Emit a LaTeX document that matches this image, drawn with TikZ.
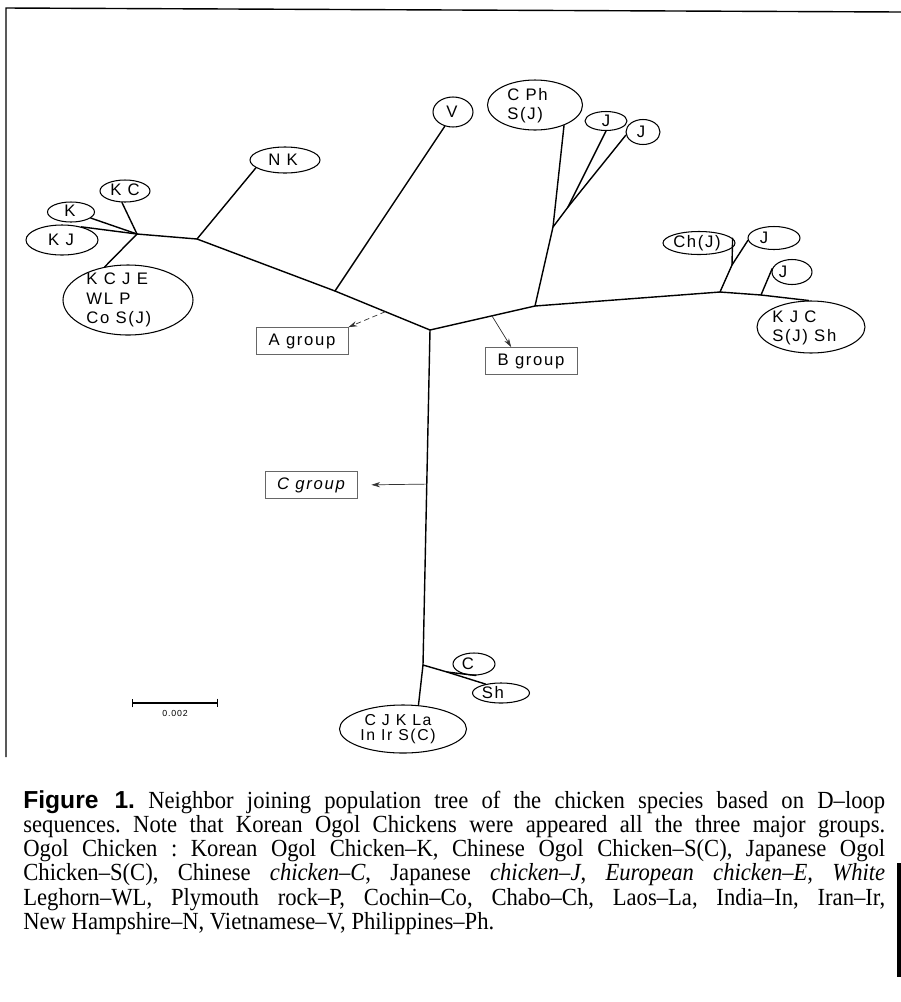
\documentclass[tikz,border=0pt]{standalone}
\usepackage{fontspec}
\setmainfont{Liberation Serif}
\newfontfamily\capserif[FakeStretch=0.92, Ligatures=TeX]{Liberation Serif}
\newfontfamily\capsans{Liberation Sans}
\newfontfamily\taxfont[LetterSpace=10]{Liberation Sans}
\usetikzlibrary{shapes.geometric, arrows.meta, calc}

\begin{document}
\begin{tikzpicture}[x=0.02cm, y=-0.02cm,
  branch/.style={line width=0.8pt, line cap=round, line join=round},
  leaf/.style n args={2}{draw, ellipse, line width=0.6pt, inner sep=0pt,
    minimum width=#1*0.02cm, minimum height=#2*0.02cm},
  tag/.style={font=\taxfont\fontsize{9.5}{11}\selectfont, inner sep=0pt, align=left},
  grp/.style={draw=black!60, line width=0.4pt, minimum width=92*0.02cm,
    minimum height=27*0.02cm, inner sep=0pt, font=\taxfont\fontsize{9.5}{10}\selectfont},
  grparrow/.style={-{Stealth[length=5pt,width=3pt]}, line width=0.4pt, black!80}]
  \useasboundingbox (0,0) rectangle (901,1002);

  % frame of the scanned figure
  \draw[line width=0.8pt] (901,12) -- (6,8) -- (6,757);
  \draw[line width=2pt] (899,863) -- (899,977);

  % inner nodes of the tree
  \coordinate (root) at (430,330);
  \coordinate (jv) at (335,291);
  \coordinate (jnk) at (197,239);
  \coordinate (jl) at (137,234);
  \coordinate (jcp) at (535,306);
  \coordinate (jjj) at (553,227);
  \coordinate (jjs) at (568,207);
  \coordinate (jch) at (720,292);
  \coordinate (jchs) at (732,265);
  \coordinate (jj4) at (761,295);
  \coordinate (jc) at (423,665);
  \coordinate (jcs) at (447,672);

  % leaves
  \node[leaf={70}{26}] (nk) at (285,160) {};
  \node[leaf={50}{22}] (kc) at (125,191) {};
  \node[leaf={47}{20}] (kk) at (71,212) {};
  \node[leaf={72}{30}] (kj) at (62,240) {};
  \node[leaf={130}{70}] (kcje) at (128,300) {};
  \node[leaf={40}{30}] (v) at (453,112) {};
  \node[leaf={95}{50}] (cph) at (535,105) {};
  \node[leaf={42}{19}] (ja) at (606,121) {};
  \node[leaf={34}{25}] (jb) at (643,132) {};
  \node[leaf={72}{23}] (chj) at (699,243) {};
  \node[leaf={52}{23}] (jd) at (774,238) {};
  \node[leaf={40}{25}] (je) at (792,272) {};
  \node[leaf={108}{52}] (kjc) at (811,327) {};
  \node[leaf={42}{22}] (c) at (474,664) {};
  \node[leaf={57}{20}] (sh) at (501,693) {};
  \node[leaf={127}{48}] (cjk) at (403,729) {};

  \node[tag] (nkt) at (283,160) {N K};
  \node[tag] (kct) at (125,190) {K C};
  \node[tag] (kkt) at (70,211) {K};
  \node[tag] (kjt) at (61,240) {K J};
  \node[tag, anchor=west] (kcjet) at (86,300) {K C J E\\WL P\\Co S(J)};
  \node[tag] (vt) at (452,112) {V};
  \node[tag, anchor=west] (cpht) at (507,106) {C Ph\\S(J)};
  \node[tag] (jat) at (606,121) {J};
  \node[tag] (jbt) at (641,132) {J};
  \node[tag] (chjt) at (697,243) {Ch(J)};
  \node[tag] (jdt) at (764,238) {J};
  \node[tag] (jet) at (783,272) {J};
  \node[tag, anchor=west] (kjct) at (772,328) {K J C\\S(J) Sh};
  \node[tag] (ct) at (468,664) {C};
  \node[tag] (sht) at (493,693) {Sh};
  \node[tag, align=center, font=\taxfont\fontsize{9}{8.6}\selectfont] (cjkt) at (398,729) {C J K La\\In Ir S(C)};

  % branches
  \draw[branch] (jl) -- (jnk) -- (jv) -- (root) -- (jcp) -- (jch) -- (jj4) -- (kjc.95);
  \draw[branch] (root) -- (jc) -- (cjk.57);
  \draw[branch] (jl) -- (kc.255);
  \draw[branch] (jl) -- (kk.-17);
  \draw[branch] (jl) -- (kj.34);
  \draw[branch] (jl) -- (kcje.125);
  \draw[branch] (jnk) -- (nk.195);
  \draw[branch] (jv) -- (v.240);
  \draw[branch] (jcp) -- (jjj) -- (cph.-35);
  \draw[branch] (jjj) -- (jjs) -- (ja.south);
  \draw[branch] (jjs) -- (jb.190);
  \draw[branch] (jch) -- (jchs) -- (chj.8);
  \draw[branch] (jchs) -- (jd.185);
  \draw[branch] (jj4) -- (je.170);
  \draw[branch] (jc) -- (jcs) -- (c.-80);
  \draw[branch] (jcs) -- (sh.150);

  % scale bar
  \coordinate (sbl) at (132,703);
  \coordinate (sbr) at (218,703);
  \draw[line width=0.6pt, {Bar[width=5pt]}-{Bar[width=5pt]}] (sbl) -- (sbr);
  \node[font=\taxfont\fontsize{5}{6}\selectfont, inner sep=0pt] (sblab) at (175,713) {0.002};

  % group labels
  \node[grp] (ga) at (302,341) {A group};
  \node[grp] (gb) at (531,361) {B group};
  \node[grp] (gc) at (311,485) {\itshape C group};
  \coordinate (aa) at ($(jv)!0.53!(root)$);
  \coordinate (bb) at ($(root)!0.59!(jcp)$);
  \coordinate (cc) at ($(root)!0.46!(jc)$);
  \draw[grparrow, densely dashed] (aa) -- (ga.north east);
  \draw[grparrow] (bb) -- (gb.145);
  \draw[grparrow, shorten >=0.28cm] (cc) -- (gc.east);

  % caption
  \node[anchor=north west, inner sep=0pt, text width=17.24cm, align=justify,
    font=\capserif\fontsize{14}{13.8}\selectfont\frenchspacing] (caption) at (23,790)
    {{\capsans\bfseries\fontsize{14}{13.8}\selectfont Figure 1.} Neighbor joining population tree of the chicken species based on D--loop\linebreak
    sequences. Note that Korean Ogol Chickens were appeared all the three major groups.\linebreak
    Ogol Chicken : Korean Ogol Chicken--K, Chinese Ogol Chicken--S(C), Japanese Ogol\linebreak
    Chicken--S(C), Chinese \textit{chicken--C}, Japanese \textit{chicken--J}, \textit{European chicken--E, White}\linebreak
    Leghorn--WL, Plymouth rock--P, Cochin--Co, Chabo--Ch, Laos--La, India--In, Iran--Ir,\linebreak
    New Hampshire--N, Vietnamese--V, Philippines--Ph.};
\end{tikzpicture}
\end{document}
